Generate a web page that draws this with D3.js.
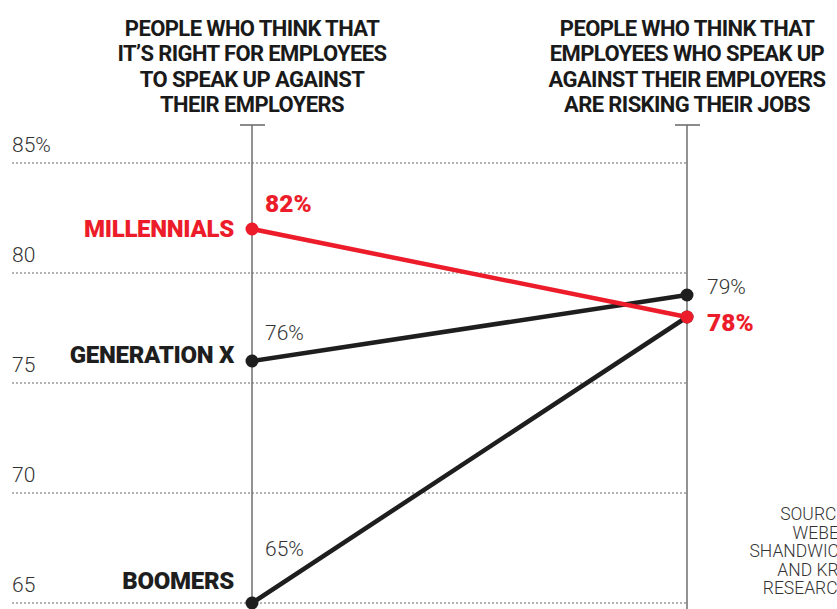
<!DOCTYPE html>
<html>
<head>
<meta charset="utf-8">
<script src="https://cdn.jsdelivr.net/npm/d3@7"></script>
<style>
  html, body { margin: 0; padding: 0; background: #fff; overflow: hidden; }
  svg { display: block; }
  text { font-family: Roboto, "Noto Sans", sans-serif; }
</style>
</head>
<body>
<svg id="chart" width="837" height="609"></svg>
<script>
// Two survey questions, plotted as a slope chart across generations
const questions = ["speakUpIsRight", "riskingJobs"];
const questionTitles = [
  ["PEOPLE WHO THINK THAT", "IT\u2019S RIGHT FOR EMPLOYEES", "TO SPEAK UP AGAINST", "THEIR EMPLOYERS"],
  ["PEOPLE WHO THINK THAT", "EMPLOYEES WHO SPEAK UP", "AGAINST THEIR EMPLOYERS", "ARE RISKING THEIR JOBS"]
];
const generations = ["MILLENNIALS", "GENERATION X", "BOOMERS"];
const speakUpIsRight = [82, 76, 65];
const riskingJobs = [78, 79, 78];
const yTicks = [85, 80, 75, 70, 65];
const yTickLabels = ["85%", "80", "75", "70", "65"];
const sourceLines = ["SOURCE:", "WEBER", "SHANDWICK", "AND KRC", "RESEARCH"];

const RED = "#ec1c2a";
const DARK = "#1e1e1e";
const seriesColor = g => g === "MILLENNIALS" ? RED : DARK;

const svg = d3.select("#chart");

const x = d3.scalePoint().domain(questions).range([252, 687]);
const y = d3.scaleLinear().domain([65, 85]).range([603, 163]);

// Dotted gridlines
const grid = svg.append("g");
grid.selectAll("line").data(yTicks).join("line")
  .attr("x1", 12).attr("x2", x(questions[1]))
  .attr("y1", d => y(d)).attr("y2", d => y(d))
  .attr("stroke", "#9a9a9a").attr("stroke-width", 1.6)
  .attr("stroke-dasharray", "2,2");

// Gridline value labels
grid.selectAll("text").data(yTicks).join("text")
  .attr("x", 12).attr("y", d => y(d) - 11)
  .attr("font-size", 21).attr("font-weight", 300).attr("fill", "#333")
  .text((d, i) => yTickLabels[i]);

// Vertical question axes with a cap at the top
const axes = svg.append("g");
questions.forEach(q => {
  const ax = axes.append("g").attr("transform", `translate(${x(q)},0)`);
  ax.append("line").attr("x1", 0).attr("x2", 0).attr("y1", 125).attr("y2", 615)
    .attr("stroke", "#6e6e6e").attr("stroke-width", 1.5);
  ax.append("line").attr("x1", -12).attr("x2", 13).attr("y1", 125).attr("y2", 125)
    .attr("stroke", "#6e6e6e").attr("stroke-width", 1.6);
});

// Column titles
questions.forEach((q, qi) => {
  const t = svg.append("text")
    .attr("text-anchor", "middle")
    .attr("font-size", 22).attr("font-weight", 700).attr("fill", "#1a1a1a")
    .attr("letter-spacing", -0.6);
  questionTitles[qi].forEach((line, li) => {
    t.append("tspan").attr("x", x(q)).attr("y", 36 + li * 25.3).text(line);
  });
});

// Slopes
const rows = generations.map((g, i) => ({
  name: g,
  values: [speakUpIsRight[i], riskingJobs[i]]
}));
const drawOrder = ["BOOMERS", "GENERATION X", "MILLENNIALS"];
const line = d3.line().x((d, i) => x(questions[i])).y(d => y(d));

const slopes = svg.append("g");
drawOrder.forEach(name => {
  const r = rows.find(d => d.name === name);
  const g = slopes.append("g");
  g.append("path").datum(r.values).attr("d", line)
    .attr("fill", "none").attr("stroke", seriesColor(name))
    .attr("stroke-width", 4.5).attr("stroke-linecap", "round");
  g.selectAll("circle").data(r.values).join("circle")
    .attr("cx", (d, i) => x(questions[i])).attr("cy", d => y(d))
    .attr("r", 6.5).attr("fill", seriesColor(name));
});

// Label placement relative to each endpoint
const nameDy = { "MILLENNIALS": 8, "GENERATION X": 2, "BOOMERS": -14 };
const leftValDy = { "MILLENNIALS": -17, "GENERATION X": -21, "BOOMERS": -47 };
const rightValDy = { "MILLENNIALS": 14, "GENERATION X": -1, "BOOMERS": null };

const labels = svg.append("g");
rows.forEach(r => {
  const isRed = r.name === "MILLENNIALS";
  labels.append("text")
    .attr("x", x(questions[0]) - 18).attr("y", y(r.values[0]) + nameDy[r.name])
    .attr("text-anchor", "end")
    .attr("font-size", 24).attr("font-weight", 900).attr("letter-spacing", -0.3)
    .attr("fill", seriesColor(r.name))
    .text(r.name);

  labels.append("text")
    .attr("x", x(questions[0]) + 13).attr("y", y(r.values[0]) + leftValDy[r.name])
    .attr("font-size", isRed ? 24.5 : 21).attr("font-weight", isRed ? 900 : 300)
    .attr("fill", isRed ? RED : "#333")
    .text(r.values[0] + "%");

  if (rightValDy[r.name] !== null) {
    labels.append("text")
      .attr("x", x(questions[1]) + 20).attr("y", y(r.values[1]) + rightValDy[r.name])
      .attr("font-size", isRed ? 24.5 : 21).attr("font-weight", isRed ? 900 : 300)
      .attr("fill", isRed ? RED : "#333")
      .text(r.values[1] + "%");
  }
});

// Source note
const src = svg.append("text")
  .attr("text-anchor", "end")
  .attr("font-size", 17.5).attr("font-weight", 300).attr("fill", "#333");
sourceLines.forEach((s, i) => {
  src.append("tspan").attr("x", 850).attr("y", 520 + i * 18.5).text(s);
});
</script>
</body>
</html>
